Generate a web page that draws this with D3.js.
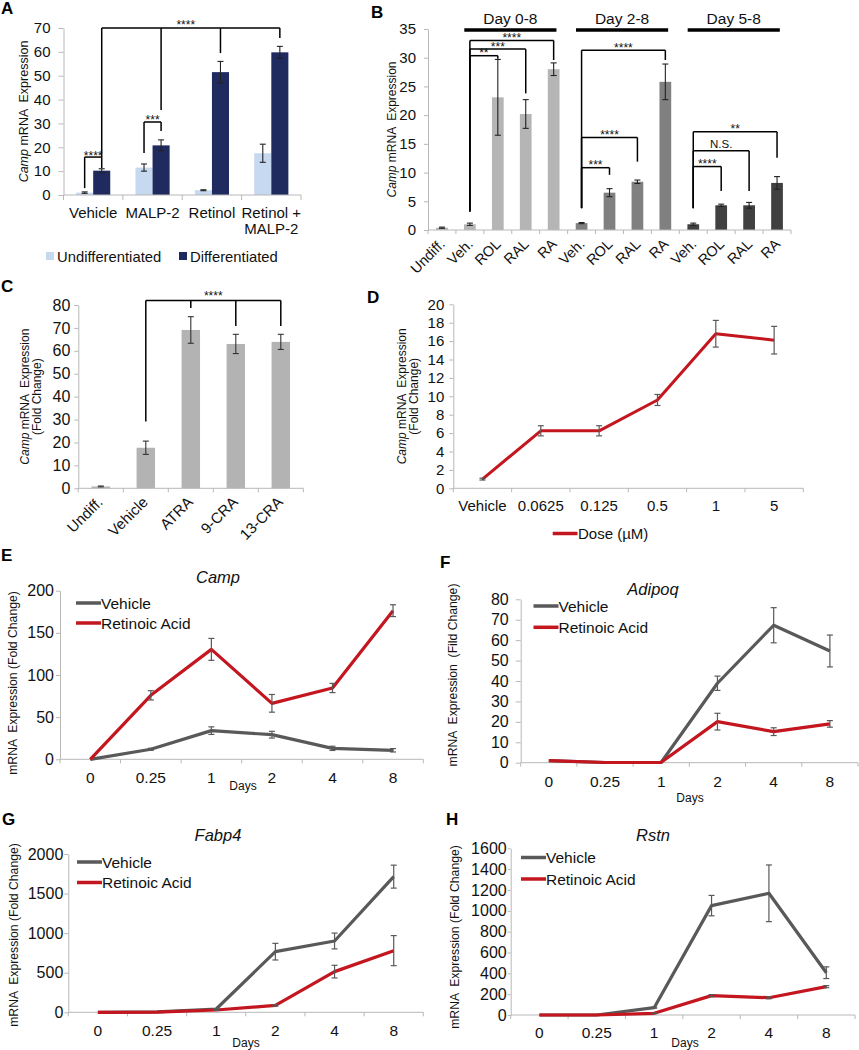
<!DOCTYPE html>
<html><head><meta charset="utf-8">
<script src="https://cdn.jsdelivr.net/npm/d3@7"></script>
<style>
body{margin:0;background:#fff;}
svg{display:block;}
</style></head><body>
<script>
// ---------------- DATA ----------------
// Panel A
const aCategories = ["Vehicle", "MALP-2", "Retinol", "Retinol +\nMALP-2"];
const aSeries = ["Undifferentiated", "Differentiated"];
const aUndiff = [1.0, 11.5, 2.0, 17.5];
const aUndiffErr = [0.3, 1.5, 0.2, 3.8];
const aDiff = [10.2, 20.8, 51.5, 59.8];
const aDiffErr = [0.8, 2.3, 4.5, 2.5];
const aTicks = [0, 10, 20, 30, 40, 50, 60, 70];

// Panel B
const bCategories = ["Undiff.", "Veh.", "ROL", "RAL", "RA", "Veh.", "ROL", "RAL", "RA", "Veh.", "ROL", "RAL", "RA"];
const bGroup = [0, 1, 1, 1, 1, 2, 2, 2, 2, 3, 3, 3, 3];
const bValues = [0.4, 1.0, 23.1, 20.2, 28.0, 1.2, 6.5, 8.4, 25.8, 1.0, 4.3, 4.3, 8.2];
const bErrors = [0.1, 0.2, 6.6, 2.5, 1.1, 0.1, 0.7, 0.3, 3.1, 0.2, 0.2, 0.5, 1.1];
const bHeaders = ["Day 0-8", "Day 2-8", "Day 5-8"];
const bHeaderSpan = [[1, 4], [5, 8], [9, 12]];
const bTicks = [0, 5, 10, 15, 20, 25, 30, 35];
// significance: from index, to index, bracket level, leg bottoms, label
const bSig = [
  {from: 1, to: 4, top: 33.0, legFrom: 3.2, legTo: 29.6, label: "****"},
  {from: 1, to: 3, top: 31.5, legFrom: 3.2, legTo: 23.8, label: "***"},
  {from: 1, to: 2, top: 30.35, legFrom: 3.2, legTo: 29.8, label: "**"},
  {from: 5, to: 8, top: 31.3, legFrom: 3.8, legTo: 29.6, label: "****"},
  {from: 5, to: 7, top: 16.1, legFrom: 3.8, legTo: 11.9, label: "****"},
  {from: 5, to: 6, top: 10.85, legFrom: 3.8, legTo: 9.6, label: "***"},
  {from: 9, to: 12, top: 17.1, legFrom: 3.8, legTo: 12.6, label: "**"},
  {from: 9, to: 11, top: 13.8, legFrom: 3.8, legTo: 6.8, label: "N.S."},
  {from: 9, to: 10, top: 11.05, legFrom: 3.8, legTo: 6.8, label: "****"}
];

// Panel C
const cCategories = ["Undiff.", "Vehicle", "ATRA", "9-CRA", "13-CRA"];
const cValues = [0.8, 17.7, 69.1, 63.0, 63.9];
const cErrors = [0.2, 2.9, 5.8, 4.2, 3.3];
const cTicks = [0, 10, 20, 30, 40, 50, 60, 70, 80];

// Panel D
const dDoses = ["Vehicle", "0.0625", "0.125", "0.5", "1", "5"];
const dValues = [1.0, 6.25, 6.25, 9.6, 16.8, 16.1];
const dErrors = [0.1, 0.55, 0.55, 0.6, 1.45, 1.5];
const dTicks = [0, 2, 4, 6, 8, 10, 12, 14, 16, 18, 20];

// Panels E-H
const days = ["0", "0.25", "1", "2", "4", "8"];
const eVehicle = [0, 11.9, 34.0, 29.2, 13.0, 10.7];
const eVehicleErr = [0, 1.2, 4.5, 4.0, 2.5, 2.0];
const eRA = [0, 75.9, 130.4, 66.4, 84.6, 176.3];
const eRAErr = [0, 5.5, 13.0, 10.5, 5.5, 7.0];
const eTicks = [0, 50, 100, 150, 200];

const fVehicle = [1.0, 0.1, 0.2, 38.9, 67.3, 54.7];
const fVehicleErr = [0, 0, 0, 3.5, 8.6, 7.8];
const fRA = [1.0, 0.1, 0.2, 20.1, 15.2, 19.0];
const fRAErr = [0, 0, 0, 4.1, 1.9, 1.6];
const fTicks = [0, 10, 20, 30, 40, 50, 60, 70, 80];

const gVehicle = [0, 5, 42, 766, 901, 1714];
const gVehicleErr = [0, 0, 5, 105, 100, 145];
const gRA = [0, 3, 29, 88, 514, 779];
const gRAErr = [0, 0, 3, 10, 80, 190];
const gTicks = [0, 500, 1000, 1500, 2000];

const hVehicle = [0, 0, 70, 1050, 1168, 406];
const hVehicleErr = [0, 0, 5, 98, 272, 56];
const hRA = [0, 0, 16, 186, 166, 272];
const hRAErr = [0, 0, 3, 10, 10, 10];
const hTicks = [0, 200, 400, 600, 800, 1000, 1200, 1400, 1600];

// ---------------- STYLE ----------------
const FONT = '"Liberation Sans", Arial, Helvetica, sans-serif';
const AXIS_C = "#b8b8b8";
const RED = "#c3161f";
const GRAY = "#595959";
const A_LIGHT = "#c6d9f0";
const A_DARK = "#1f2a5e";
const B_COLORS = ["#b0b0b0", "#b5b5b5", "#808080", "#404040"];
const C_COLOR = "#b3b3b3";

const svg = d3.select("body").append("svg")
  .attr("width", 859).attr("height", 1050)
  .attr("font-family", FONT);
svg.append("rect").attr("width", 859).attr("height", 1050).attr("fill", "#fff");

// ---------------- HELPERS ----------------
function drawYAxis(x0, y, ticks, tickSize, pad, fs) {
  const ax = svg.append("g").attr("transform", `translate(${x0},0)`)
    .call(d3.axisLeft(y).tickValues(ticks).tickSize(tickSize).tickSizeOuter(0)
      .tickPadding(pad).tickFormat(d3.format("d")));
  ax.attr("font-family", FONT).attr("font-size", fs);
  ax.select(".domain").attr("stroke", AXIS_C);
  ax.selectAll(".tick line").attr("stroke", AXIS_C);
  ax.selectAll(".tick text").attr("fill", "#111");
}
function drawBandAxis(x, y0, tickLen) {
  const g = svg.append("g");
  const r = x.range();
  g.append("line").attr("x1", r[0]).attr("x2", r[1]).attr("y1", y0).attr("y2", y0)
    .attr("stroke", AXIS_C);
  g.selectAll("line.tk").data(d3.range(x.domain().length + 1)).join("line")
    .attr("class", "tk")
    .attr("x1", i => r[0] + i * x.step()).attr("x2", i => r[0] + i * x.step())
    .attr("y1", y0).attr("y2", y0 + tickLen).attr("stroke", AXIS_C);
}
function errBars(pts, y, color, capW, sw) {
  const g = svg.append("g").attr("stroke", color).attr("stroke-width", sw).attr("fill", "none");
  pts.filter(p => p.e > 0).forEach(p => {
    g.append("line").attr("x1", p.x).attr("x2", p.x).attr("y1", y(p.v + p.e)).attr("y2", y(Math.max(0, p.v - p.e)));
    g.append("line").attr("x1", p.x - capW / 2).attr("x2", p.x + capW / 2).attr("y1", y(p.v + p.e)).attr("y2", y(p.v + p.e));
    g.append("line").attr("x1", p.x - capW / 2).attr("x2", p.x + capW / 2).attr("y1", y(Math.max(0, p.v - p.e))).attr("y2", y(Math.max(0, p.v - p.e)));
  });
}
function yLabel(bx, cy, lines, fs, lh) {
  const t = svg.append("text").attr("transform", `translate(${bx},${cy}) rotate(-90)`)
    .attr("text-anchor", "middle").attr("font-size", fs).attr("fill", "#111")
    .style("white-space", "pre");
  lines.forEach((ln, i) => {
    const line = t.append("tspan").attr("x", 0).attr("dy", i === 0 ? 0 : lh);
    ln.forEach(seg => {
      line.append("tspan").attr("font-style", seg[1] ? "italic" : "normal").text(seg[0]);
    });
  });
}
function panelLetter(ch, x, y) {
  svg.append("text").attr("x", x).attr("y", y).attr("font-size", 17).attr("font-weight", "bold")
    .attr("fill", "#000").text(ch);
}
function sigLabel(x, y, label, fs) {
  svg.append("text").attr("x", x).attr("y", label === "N.S." ? y - 2 : y + 2.5)
    .attr("text-anchor", "middle").attr("font-size", label === "N.S." ? 11.5 : fs).attr("fill", "#111").text(label);
}
function hline(x1, x2, yy, sw) {
  svg.append("line").attr("x1", x1).attr("x2", x2).attr("y1", yy).attr("y2", yy)
    .attr("stroke", "#000").attr("stroke-width", sw);
}
function vline(xx, y1, y2, sw) {
  svg.append("line").attr("x1", xx).attr("x2", xx).attr("y1", y1).attr("y2", y2)
    .attr("stroke", "#000").attr("stroke-width", sw);
}

// ---------------- PANEL A ----------------
(function () {
  const x = d3.scaleBand().domain(d3.range(aCategories.length)).range([63.5, 301]);
  const xs = d3.scaleBand().domain([0, 1]).range([0, x.step()]).paddingInner(0).paddingOuter(0.74);
  const y = d3.scaleLinear().domain([0, 70]).range([195, 28]);
  const vals = [aUndiff, aDiff], errs = [aUndiffErr, aDiffErr], cols = [A_LIGHT, A_DARK];
  vals.forEach((arr, s) => {
    svg.append("g").selectAll("rect").data(arr).join("rect")
      .attr("x", (d, i) => x(i) + xs(s)).attr("width", xs.bandwidth())
      .attr("y", d => y(d)).attr("height", d => y(0) - y(d)).attr("fill", cols[s]);
  });
  vals.forEach((arr, s) => {
    errBars(arr.map((v, i) => ({x: x(i) + xs(s) + xs.bandwidth() / 2, v: v, e: errs[s][i]})), y, "#222", 6, 1.1);
  });
  drawYAxis(63.5, y, aTicks, 5, 8, 15);
  drawBandAxis(x, 195, 5);
  aCategories.forEach((c, i) => {
    c.split("\n").forEach((ln, k) => {
      svg.append("text").attr("x", x(i) + x.bandwidth() / 2).attr("y", 217.5 + k * 16.5)
        .attr("text-anchor", "middle").attr("font-size", 15).attr("fill", "#111").text(ln);
    });
  });
  yLabel(28, y(35), [[["Camp", true], [" mRNA  Expression", false]]], 12.5, 0);
  // significance brackets
  const cx = (i, s) => x(i) + xs(s) + xs.bandwidth() / 2;
  const top = 70;
  hline(cx(0, 1), cx(3, 1), y(top), 1.5);
  [[0, 15.9], [1, 35.6], [2, 59.5], [3, 65.8]].forEach(d => vline(cx(d[0], 1), y(top), y(d[1]), 1.5));
  sigLabel((cx(0, 1) + cx(3, 1)) / 2 - 5, y(top) - 1.5, "****", 12);
  // small brackets
  hline(cx(0, 0), cx(0, 1), y(15.9), 1.5);
  vline(cx(0, 0), y(15.9), y(2.9), 1.5);
  vline(cx(0, 1), y(15.9), y(11.3), 1.5);
  sigLabel((cx(0, 0) + cx(0, 1)) / 2, y(15.9), "****", 12);
  hline(cx(1, 0), cx(1, 1), y(30.6), 1.5);
  vline(cx(1, 0), y(30.6), y(17.6), 1.5);
  vline(cx(1, 1), y(30.6), y(26.8), 1.5);
  sigLabel((cx(1, 0) + cx(1, 1)) / 2, y(30.6), "***", 12);
  // legend
  aSeries.forEach((s, i) => {
    const lx = [46, 179][i];
    svg.append("rect").attr("x", lx).attr("y", 252).attr("width", 8).attr("height", 8).attr("fill", cols[i]);
    svg.append("text").attr("x", lx + 11).attr("y", 261.5).attr("font-size", 14.8).attr("fill", "#111").text(s);
  });
  panelLetter("A", 1, 14);
})();

// ---------------- PANEL B ----------------
(function () {
  const x = d3.scaleBand().domain(d3.range(bCategories.length)).range([428, 791]);
  const y = d3.scaleLinear().domain([0, 35]).range([230, 29]);
  const bw = x.bandwidth() * 0.42;
  const cx = i => x(i) + x.bandwidth() / 2;
  svg.append("g").selectAll("rect").data(bValues).join("rect")
    .attr("x", (d, i) => cx(i) - bw / 2).attr("width", bw)
    .attr("y", d => y(d)).attr("height", d => y(0) - y(d))
    .attr("fill", (d, i) => B_COLORS[bGroup[i]]);
  errBars(bValues.map((v, i) => ({x: cx(i), v: v, e: bErrors[i]})), y, "#222", 6, 1.1);
  drawYAxis(428, y, bTicks, 4, 8, 15);
  drawBandAxis(x, 230, 4);
  bCategories.forEach((c, i) => {
    svg.append("text").attr("transform", `translate(${cx(i) + 4},${245}) rotate(-45)`)
      .attr("text-anchor", "end").attr("font-size", 14.5).attr("fill", "#111").text(c);
  });
  yLabel(396, (y(0) + y(35)) / 2, [[["Camp", true], [" mRNA  Expression", false]]], 12, 0);
  // headers
  bHeaders.forEach((h, k) => {
    const s = bHeaderSpan[k];
    const x1 = x(s[0]) + 0.3 * x.bandwidth(), x2 = x(s[1]) + 0.6 * x.bandwidth();
    hline(x1, x2, y(35) + 1, 3.5);
    svg.append("text").attr("x", (x1 + x2) / 2).attr("y", y(35) - 5).attr("text-anchor", "middle")
      .attr("font-size", 15.5).attr("fill", "#111").text(h);
  });
  bSig.forEach(s => {
    hline(cx(s.from), cx(s.to), y(s.top), 1.5);
    vline(cx(s.from), y(s.top), y(s.legFrom), 1.5);
    vline(cx(s.to), y(s.top), y(s.legTo), 1.5);
    sigLabel((cx(s.from) + cx(s.to)) / 2, y(s.top) - 1, s.label, 12);
  });
  panelLetter("B", 371, 18);
})();

// ---------------- PANEL C ----------------
(function () {
  const x = d3.scaleBand().domain(d3.range(cCategories.length)).range([78.3, 303.3]);
  const y = d3.scaleLinear().domain([0, 80]).range([488.3, 305]);
  const bw = x.bandwidth() * 0.41;
  const cx = i => x(i) + x.bandwidth() / 2;
  svg.append("g").selectAll("rect").data(cValues).join("rect")
    .attr("x", (d, i) => cx(i) - bw / 2).attr("width", bw)
    .attr("y", d => y(d)).attr("height", d => y(0) - y(d)).attr("fill", C_COLOR);
  errBars(cValues.map((v, i) => ({x: cx(i), v: v, e: cErrors[i]})), y, "#333", 6, 1.1);
  drawYAxis(78.3, y, cTicks, 4, 4, 16);
  drawBandAxis(x, 488.3, 4);
  cCategories.forEach((c, i) => {
    svg.append("text").attr("transform", `translate(${cx(i) + 3},${503}) rotate(-45)`)
      .attr("text-anchor", "end").attr("font-size", 15).attr("fill", "#111").text(c);
  });
  yLabel(29, (y(0) + y(80)) / 2, [[["Camp", true], [" mRNA  Expression", false]], [["(Fold Change)", false]]], 12, 12);
  const top = 82;
  hline(cx(1), cx(4), y(top), 1.5);
  vline(cx(1), y(top), y(29.1), 1.5);
  [[2, 78.7], [3, 70.8], [4, 70.8]].forEach(d => vline(cx(d[0]), y(top), y(d[1]), 1.5));
  sigLabel((cx(1) + cx(4)) / 2, y(top) - 3, "****", 12);
  panelLetter("C", 1, 292);
})();

// ---------------- PANEL D ----------------
(function () {
  const x = d3.scaleBand().domain(d3.range(dDoses.length)).range([453.3, 803.3]);
  const y = d3.scaleLinear().domain([0, 20]).range([488.3, 304.3]);
  const cx = i => x(i) + x.bandwidth() / 2;
  drawYAxis(453.3, y, dTicks, 4, 5, 15);
  drawBandAxis(x, 488.3, 4);
  svg.append("path").datum(dValues)
    .attr("d", d3.line().x((d, i) => cx(i)).y(d => y(d)))
    .attr("fill", "none").attr("stroke", RED).attr("stroke-width", 3).attr("stroke-linejoin", "round");
  errBars(dValues.map((v, i) => ({x: cx(i), v: v, e: dErrors[i]})), y, GRAY, 6, 1.2);
  dDoses.forEach((c, i) => {
    svg.append("text").attr("x", cx(i)).attr("y", 510.5).attr("text-anchor", "middle")
      .attr("font-size", 15).attr("fill", "#111").text(c);
  });
  svg.append("line").attr("x1", 552.7).attr("x2", 577.5).attr("y1", 533.5).attr("y2", 533.5)
    .attr("stroke", RED).attr("stroke-width", 3.5);
  svg.append("text").attr("x", 578).attr("y", 539).attr("font-size", 15).attr("fill", "#111").text("Dose (µM)");
  yLabel(405.5, (y(0) + y(20)) / 2, [[["Camp", true], [" mRNA  Expression", false]], [["(Fold Change)", false]]], 12, 12.5);
  panelLetter("D", 367, 303);
})();

// ---------------- PANELS E-H ----------------
function timePanel(cfg) {
  const x = d3.scaleBand().domain(d3.range(days.length)).range(cfg.xr);
  const y = d3.scaleLinear().domain([0, cfg.max]).range(cfg.yr);
  const cx = i => x(i) + x.bandwidth() / 2;
  drawYAxis(cfg.xr[0], y, cfg.ticks, cfg.tick, cfg.pad, 16);
  drawBandAxis(x, cfg.yr[0], 4);
  const line = d3.line().x((d, i) => cx(i)).y(d => y(d));
  [[cfg.veh, GRAY], [cfg.ra, RED]].forEach(s => {
    svg.append("path").datum(s[0]).attr("d", line).attr("fill", "none")
      .attr("stroke", s[1]).attr("stroke-width", 3.2).attr("stroke-linejoin", "round");
  });
  errBars(cfg.veh.map((v, i) => ({x: cx(i), v: v, e: cfg.vehErr[i]})), y, GRAY, 6, 1.2);
  errBars(cfg.ra.map((v, i) => ({x: cx(i), v: v, e: cfg.raErr[i]})), y, GRAY, 6, 1.2);
  days.forEach((d, i) => {
    svg.append("text").attr("x", cx(i)).attr("y", cfg.tickY).attr("text-anchor", "middle")
      .attr("font-size", 15.5).attr("fill", "#111").text(d);
  });
  svg.append("text").attr("x", cfg.daysX).attr("y", cfg.daysY).attr("text-anchor", "middle")
    .attr("font-size", 12).attr("fill", "#111").text("Days");
  svg.append("text").attr("x", cfg.titleX).attr("y", cfg.titleY).attr("text-anchor", "middle")
    .attr("font-size", 16.5).attr("font-style", "italic").attr("fill", "#111").text(cfg.title);
  [["Vehicle", GRAY], ["Retinoic Acid", RED]].forEach((s, k) => {
    const ly = cfg.leg[1] + k * cfg.legGap;
    svg.append("line").attr("x1", cfg.leg[0]).attr("x2", cfg.leg[0] + 25).attr("y1", ly).attr("y2", ly)
      .attr("stroke", s[1]).attr("stroke-width", 3.5);
    svg.append("text").attr("x", cfg.leg[0] + 25).attr("y", ly + 5.5).attr("font-size", 15.5)
      .attr("fill", "#111").text(s[0]);
  });
  yLabel(cfg.labX, cfg.labY, [[[cfg.ylab, false]]], 12.2, 0);
  panelLetter(cfg.letter, cfg.letterPos[0], cfg.letterPos[1]);
}

timePanel({xr: [60, 423.3], yr: [759.3, 590.7], max: 200, ticks: eTicks, tick: 4, pad: 2,
  veh: eVehicle, vehErr: eVehicleErr, ra: eRA, raErr: eRAErr, tickY: 782.5, daysX: 243, daysY: 789.5,
  title: "Camp", titleX: 218, titleY: 583, leg: [76, 603], legGap: 20,
  labX: 17, labY: 683, ylab: "mRNA  Expression (Fold Change)", letter: "E", letterPos: [1, 561]});
timePanel({xr: [520.7, 858], yr: [762.7, 599.3], max: 80, ticks: fTicks, tick: 5, pad: 7,
  veh: fVehicle, vehErr: fVehicleErr, ra: fRA, raErr: fRAErr, tickY: 786.5, daysX: 690, daysY: 801.5,
  title: "Adipoq", titleX: 653, titleY: 595, leg: [533.5, 606], legGap: 21.3,
  labX: 457, labY: 675, ylab: "mRNA  Expression  (Fild Change)", letter: "F", letterPos: [440, 568]});
timePanel({xr: [68.3, 423.3], yr: [1012.3, 854], max: 2000, ticks: gTicks, tick: 4, pad: 1,
  veh: gVehicle, vehErr: gVehicleErr, ra: gRA, raErr: gRAErr, tickY: 1035.5, daysX: 246, daysY: 1046.5,
  title: "Fabp4", titleX: 218, titleY: 841, leg: [77, 862], legGap: 20.5,
  labX: 18, labY: 935, ylab: "mRNA  Expression (Fold Change)", letter: "G", letterPos: [2, 825]});
timePanel({xr: [510.7, 855], yr: [1015, 848.3], max: 1600, ticks: hTicks, tick: 3, pad: 1,
  veh: hVehicle, vehErr: hVehicleErr, ra: hRA, raErr: hRAErr, tickY: 1037.5, daysX: 685, daysY: 1046.5,
  title: "Rstn", titleX: 653, titleY: 841, leg: [521, 857.5], legGap: 21.5,
  labX: 459, labY: 937, ylab: "mRNA  Expression (Fold Change)", letter: "H", letterPos: [446, 825]});
</script>
</body></html>
